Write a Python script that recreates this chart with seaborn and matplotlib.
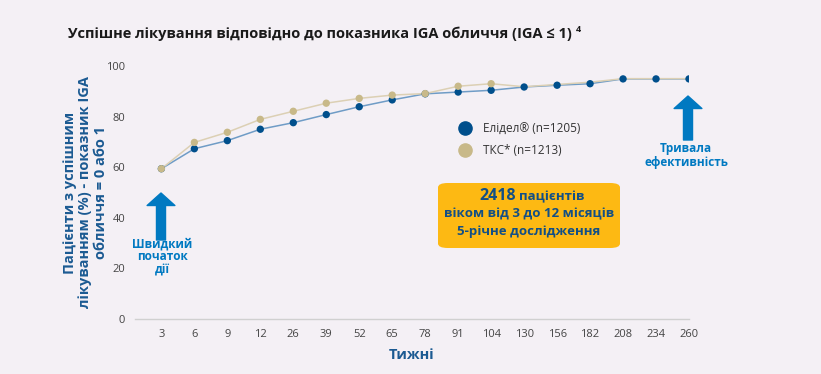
import numpy as np
import pandas as pd
import matplotlib
matplotlib.use("Agg")
import matplotlib.pyplot as plt
from matplotlib.lines import Line2D
from matplotlib.patches import FancyBboxPatch
import seaborn as sns

# data
weeks = ["3", "6", "9", "12", "26", "39", "52", "65", "78", "91", "104",
         "130", "156", "182", "208", "234", "260"]
elidel = [59.4, 67.3, 70.5, 75.0, 77.6, 80.8, 83.9, 86.6, 89.0, 89.7, 90.4,
          91.7, 92.4, 93.0, 94.9, 94.9, 94.9]
tcs = [59.4, 69.8, 73.8, 78.9, 82.1, 85.3, 87.2, 88.5, 89.1, 92.0, 93.0,
       91.8, 92.7, 93.6, 95.0, 95.0, 95.0]
series_names = ["Елідел® (n=1205)", "ТКС* (n=1213)"]
last_tcs_marker = "104"
box_lines = ["віком від 3 до 12 місяців", "5-річне дослідження"]

BG = "#F4F0F5"
NAVY = "#004F8C"
NAVY_LINE = "#6F9CC6"
TAN = "#C8B989"
TAN_LINE = "#DCD0B4"
ARROW = "#0079C1"
LABEL = "#1B5A92"
YELLOW = "#FDB913"
BOXTXT = "#124F86"

sns.set_style("white")
plt.rcParams["font.family"] = ["Open Sans", "DejaVu Sans"]

pos = np.arange(len(weeks))
df = pd.DataFrame({
    "pos": np.concatenate([pos, pos]),
    "value": elidel + tcs,
    "group": [series_names[0]] * len(weeks) + [series_names[1]] * len(weeks),
})

W, H = 821, 374
fig = plt.figure(figsize=(W / 100, H / 100), dpi=100, facecolor=BG)
ax = fig.add_axes([135 / W, 1 - 319 / H, (689 - 135) / W, (319 - 66) / H])
ax.set_facecolor(BG)

# lines
sns.lineplot(data=df, x="pos", y="value", hue="group",
             palette=[NAVY_LINE, TAN_LINE], hue_order=series_names,
             linewidth=1.1, legend=False, ax=ax, zorder=2)
# markers: elidel everywhere, tcs only where it is visible
sns.scatterplot(data=df[df.group == series_names[0]], x="pos", y="value",
                color=NAVY, s=28, edgecolor="none", legend=False, ax=ax, zorder=3)
cut = weeks.index(last_tcs_marker)
sns.scatterplot(data=df[(df.group == series_names[1]) & (df.pos <= cut)], x="pos", y="value",
                color=TAN, s=28, edgecolor="none", legend=False, ax=ax, zorder=4)

ax.set_xlim(-0.8, len(weeks) - 1)
ax.set_ylim(0, 100)
ax.set_xticks(pos)
ax.set_xticklabels(weeks)
ax.set_yticks([0, 20, 40, 60, 80, 100])
ax.tick_params(axis="both", length=0, labelsize=8, labelcolor="#444444")
ax.tick_params(axis="x", pad=7)
ax.tick_params(axis="y", pad=7)
for s in ["top", "right", "left"]:
    ax.spines[s].set_visible(False)
ax.spines["bottom"].set_color("#D0D0D0")
ax.spines["bottom"].set_linewidth(1)

ax.set_xlabel("Тижні", fontsize=10.5, fontweight="bold", color=LABEL, labelpad=6)
ax.set_ylabel("Пацієнти з успішним\nлікуванням (%) - показник IGA\nобличчя = 0 або 1",
              fontsize=10.5, fontweight="bold", color=LABEL, labelpad=-1, linespacing=1.12)

handles = [Line2D([], [], marker="o", linestyle="none", markersize=9.5, color=NAVY),
           Line2D([], [], marker="o", linestyle="none", markersize=9.5, color=TAN)]
ax.legend(handles, series_names, loc="upper left",
          bbox_to_anchor=((443 - 135) / (689 - 135), (319 - 112) / 253),
          frameon=False, fontsize=8.5, handletextpad=0.45, labelspacing=0.75,
          labelcolor="#333333")


def fx(px):
    return px / W


def fy(py):
    return 1 - py / H


fig.text(fx(68), fy(34), "Успішне лікування відповідно до показника IGA обличчя (IGA ≤ 1)",
         fontsize=10.5, fontweight="bold", color="#1A1A1A", va="center", ha="left")
fig.text(fx(576), fy(29), "4", fontsize=6.5, fontweight="bold", color="#1A1A1A", va="center", ha="left")

# arrows
for x0, y_base, y_tip in [(161, 240, 193), (688, 140, 96)]:
    ax.annotate("", xy=(fx(x0), fy(y_tip)), xytext=(fx(x0), fy(y_base)),
                xycoords="figure fraction", textcoords="figure fraction",
                arrowprops=dict(arrowstyle="simple,head_width=2.0,head_length=0.9,tail_width=0.65",
                                color=ARROW, shrinkA=0, shrinkB=0, mutation_scale=10))
fig.text(fx(162), fy(257), "Швидкий\nпочаток\nдії", fontsize=8.5, fontweight="bold",
         color=ARROW, ha="center", va="center", linespacing=1.05)
fig.text(fx(686), fy(155.5), "Тривала\nефективність", fontsize=8.5, fontweight="bold",
         color=ARROW, ha="center", va="center", linespacing=1.05)

# yellow info box
box = FancyBboxPatch((fx(438), fy(248)), fx(620 - 438), (248 - 183) / H,
                     boxstyle="round,pad=0,rounding_size=0.012", transform=fig.transFigure,
                     facecolor=YELLOW, edgecolor="none", zorder=1)
fig.patches.append(box)
fig.text(fx(516), fy(196), "2418", fontsize=11.5, fontweight="bold", color=BOXTXT,
         ha="right", va="center")
fig.text(fx(519), fy(197), "пацієнтів", fontsize=9.5, fontweight="bold", color=BOXTXT,
         ha="left", va="center")
for i, line in enumerate(box_lines):
    fig.text(fx(529), fy(214 + 17 * i), line, fontsize=9.5,
             fontweight="bold", color=BOXTXT, ha="center", va="center")

fig.savefig("out.png", dpi=100, facecolor=BG)
